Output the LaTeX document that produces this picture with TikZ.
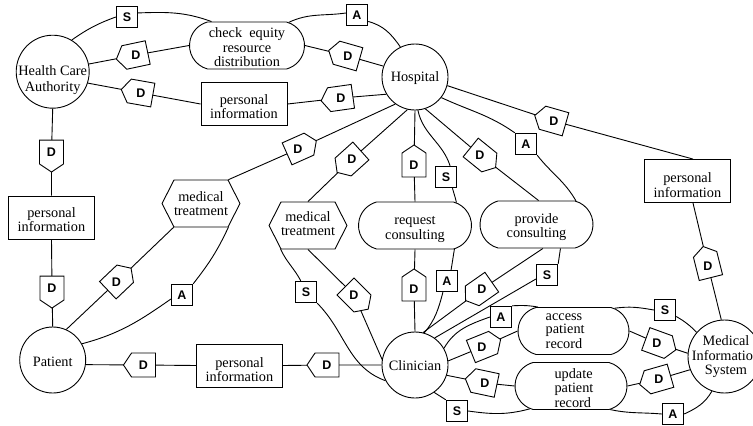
\documentclass[tikz,border=0pt]{standalone}
\usepackage{fontspec}
\setmainfont{Liberation Serif}
\newfontfamily\labfont{Liberation Sans}
\usetikzlibrary{shapes.symbols,shapes.misc,backgrounds}
\tikzset{
  textlab/.style={align=center,inner sep=0pt,text=black,font=\fontsize{14.3}{14.5}\selectfont},
  base/.style={draw=black,line width=0.9pt,fill=white,align=center,inner sep=0pt,text=black,
    font=\fontsize{14.3}{14.5}\selectfont},
  actor/.style={base,circle,minimum size=66pt},
  bigactor/.style={base,circle,minimum size=73pt},
  resbox/.style={base,rectangle,minimum width=86pt,minimum height=43pt},
  taskbox/.style={base,rounded rectangle,rounded rectangle arc length=150,minimum width=113pt,minimum height=47pt},
  goalhex/.style={base,signal,signal to=east and west,signal pointer angle=126,minimum width=77pt,minimum height=47pt},
  dtag/.style={draw=black,line width=0.9pt,fill=white,signal,signal to=east,signal pointer angle=112,minimum width=32pt,minimum height=24pt,inner sep=0pt},
  dlabel/.style={font=\labfont\bfseries\fontsize{12.5}{13}\selectfont,inner sep=0pt,text=black},
  markbox/.style={base,rectangle,minimum size=21.5pt,font=\labfont\bfseries\fontsize{12.5}{13}\selectfont},
  link/.style={draw=black,line width=0.9pt},
}
\newcommand{\tagD}[4]{\node[dtag,rotate=#4] (#1) at (#2,#3) {}; \node[dlabel] (#1l) at (#2,#3) {D};}
\newcommand{\dn}[1]{\rule{0pt}{\dimexpr 9.8pt+2\dimexpr #1pt\relax\relax}}
\newcommand{\upby}[1]{\rule[-2\dimexpr #1pt\relax]{0pt}{0pt}}
\begin{document}
\begin{tikzpicture}[x=1pt,y=-1pt]
\useasboundingbox (0,0) rectangle (753,426);
% actors
\node[bigactor,label={[textlab,yshift=-8.5pt]center:Health Care\\[1.5pt]Authority}] (hca) at (52.7,71.7) {};
\node[actor] (hosp) at (415,77) {\dn{1}Hospital};
\node[actor] (pat) at (52.7,360) {\dn{2}Patient};
\node[actor] (clin) at (415,365) {\dn{1}Clinician};
\node[bigactor,label={[textlab,xshift=1.5pt,yshift=-0.5pt]center:Medical\\Information\\System}] (mis) at (724.5,356.5) {};
% resources
\node[resbox] (pit) at (244,104) {\dn{2.5}personal\\information};
\node[resbox] (pil) at (51.5,217.5) {\dn{2}personal\\information};
\node[resbox] (pib) at (239.5,365.5) {\dn{4}personal\\information};
\node[resbox] (pir) at (687.5,181) {\dn{4}personal\\information};
% tasks
\node[taskbox,minimum width=115pt] (check) at (247,45.5) {\dn{2}check\ \ equity\\resource\\distribution};
\node[taskbox] (req) at (415,225.5) {\dn{3}request\\consulting};
\node[taskbox] (prov) at (536.5,224.5) {\dn{2.5}provide\\consulting};
\node[taskbox,minimum width=111pt,align=left] (acc) at (573.5,331) {access\\[-1.5pt]patient\\record\hspace*{19pt}};
\node[taskbox,minimum width=112pt,align=left] (upd) at (571,386) {\dn{2}\hspace*{6pt}update\\\hspace*{6pt}patient\\\hspace*{6pt}record};
% goals
\node[goalhex] (hexa) at (201,203.5) {medical\\treatment};
\node[goalhex] (hexb) at (308,225.5) {medical\\treatment\upby{2}};
% marks
\node[markbox] (s1) at (127,17) {S};
\node[markbox] (a1) at (357,15) {A};
\node[markbox] (s2) at (446,177) {S};
\node[markbox] (a2) at (526,144) {A};
\node[markbox] (a3) at (182,295) {A};
\node[markbox] (s3) at (306,292) {S};
\node[markbox] (a4) at (447,281) {A};
\node[markbox] (s4) at (547,275) {S};
\node[markbox] (a5) at (501,317) {A};
\node[markbox] (s5) at (665,310) {S};
\node[markbox] (s6) at (457,411) {S};
\node[markbox] (a6) at (673,414) {A};
% dependency tags
\tagD{t1}{136}{55}{192}
\tagD{t2}{141}{93}{170}
\tagD{t3}{348}{56}{164}
\tagD{t4}{341}{98}{188}
\tagD{t5}{51.5}{152}{270}
\tagD{t6}{298}{149}{24}
\tagD{t7}{352}{159}{222}
\tagD{t8}{414}{165}{90}
\tagD{t10}{480}{155}{-39}
\tagD{t12}{554}{121}{164}
\tagD{t13}{708}{266}{104}
\tagD{t14}{52}{288}{270}
\tagD{t15}{116.5}{282}{43.5}
\tagD{t16}{143.5}{365}{180}
\tagD{t17}{327}{365}{180}
\tagD{t18}{354}{295}{-45}
\tagD{t19}{414}{289}{90}
\tagD{t20}{482}{289}{215}
\tagD{t21}{482}{347}{22}
\tagD{t22}{657}{343}{-20}
\tagD{t23}{485}{383}{168}
\tagD{t24}{659}{379}{196}
\begin{scope}[on background layer]
% straight dependency links
\draw[link] (hca.12) -- (t1.center) -- (check.west);
\draw[link] (hca.-18) -- (t2.center) -- (pit.west);
\draw[link] (check.east) -- (t3.center) -- (hosp.161);
\draw[link] (pit.east) -- (t4.center) -- (hosp.211);
\draw[link] (hca.south) -- (t5.center) -- (pil.north);
\draw[link] (pil.south) -- (t14.center) -- (pat.north);
\draw[link] (hosp.234) -- (t6.center) -- (hexa.41);
\draw[link] (hosp.257) -- (t7.center) -- (hexb.north);
\draw[link] (hosp.south) -- (t8.center) -- (req.north);
\draw[link] (hosp.-72) -- (t10.center) -- (prov.85);
\draw[link] (hosp.-15) -- (t12.center) -- (pir.76);
\draw[link] (hexa.221) -- (t15.center) -- (pat.66);
\draw[link] (pat.-8) -- (t16.center) -- (pib.west);
\draw[link] (pib.east) -- (t17.center) -- (clin.west);
\draw[link] (hexb.south) -- (t18.center) -- (clin.237);
\draw[link] (req.south) -- (t19.center) -- (clin.north);
\draw[link] (prov.-75) -- (t20.center) -- (clin.76);
\draw[link] (clin.7) -- (t21.center) -- (acc.west);
\draw[link] (clin.-18) -- (t23.center) -- (upd.west);
\draw[link] (acc.east) -- (t22.center) -- (mis.175);
\draw[link] (upd.east) -- (t24.center) -- (mis.201);
\draw[link] (pir.-76) -- (t13.center) -- (mis.95);
% decomposition curves with S and A marks
\draw[link] (hca.59) to[out=35,in=200] (s1.west);
\draw[link] (s1.20) to[out=2,in=160] (check.146);
\draw[link] (check.29) to[out=25,in=188] (a1.170);
\draw[link] (a1.-30) to[out=-15,in=125] (hosp.116);
\draw[link] (hosp.-85) to[out=-78,in=108] (s2.70);
\draw[link] (s2.-60) to[out=-75,in=103] (req.29);
\draw[link] (hosp.-38) to[out=-25,in=145] (a2.north west);
\draw[link] (a2.south east) to[out=-52,in=120] (prov.31);
\draw[link] (hexa.-41) to[out=-115,in=52] (a3.north east);
\draw[link] (a3.200) to[out=215,in=15] (pat.29);
\draw[link] (hexb.221) to[out=-65,in=118] (s3.115);
\draw[link] (s3.south east) to[out=-45,in=160] (clin.208);
\draw[link] (req.-31) to[out=-100,in=80] (a4.70);
\draw[link] (a4.-110) to[out=-105,in=50] (clin.74);
\draw[link] (prov.-45) -- (s4.north east);
\draw[link] (s4.200) -- (clin.54);
\draw[link] (clin.30) to[out=60,in=200] (a5.west);
\draw[link] (a5.north east) to[out=3,in=170] (acc.146);
\draw[link] (acc.29) to[out=8,in=170] (s5.west);
\draw[link] (s5.-30) to[out=-30,in=135] (mis.139);
\draw[link] (upd.-31) to[out=-12,in=175] (a6.west);
\draw[link] (a6.east) to[out=25,in=240] (mis.250);
\draw[link] (clin.-55) -- (s6.north west);
\draw[link] (s6.east) to[out=-8,in=195] (upd.209);
\end{scope}
\end{tikzpicture}
\end{document}
